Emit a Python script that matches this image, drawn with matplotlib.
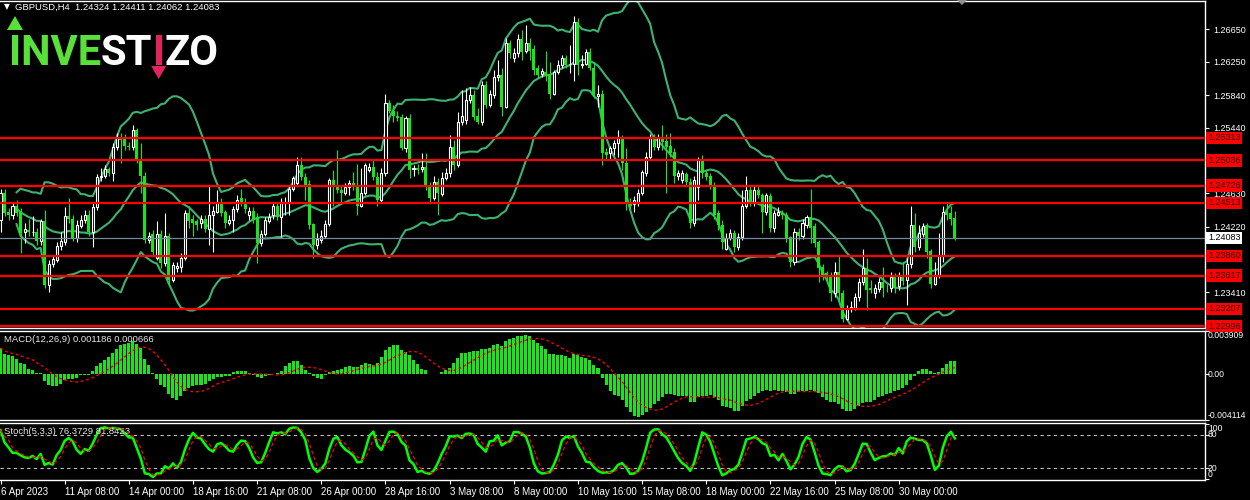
import numpy as np
import pandas as pd
import matplotlib
matplotlib.use("Agg")
import matplotlib.pyplot as plt
from matplotlib.patches import Polygon
from matplotlib.transforms import blended_transform_factory

plt.rcParams['font.family'] = ['Liberation Sans', 'DejaVu Sans']

# GBPUSD H4 candles, prices in units of 0.0001 (bar 0 .. 238)
opens = [
    12430, 12463, 12440, 12436, 12448, 12440, 12415, 12418, 12415, 12416,
    12404, 12429, 12350, 12376, 12381, 12398, 12403, 12435, 12432, 12408,
    12423, 12430, 12437, 12415, 12446, 12483, 12485, 12493, 12488, 12520,
    12532, 12530, 12522, 12520, 12541, 12504, 12485, 12405, 12413, 12384,
    12413, 12377, 12410, 12356, 12371, 12372, 12384, 12439, 12431, 12429,
    12426, 12432, 12419, 12436, 12440, 12452, 12440, 12426, 12430, 12444,
    12457, 12451, 12437, 12441, 12434, 12402, 12413, 12429, 12436, 12448,
    12434, 12451, 12452, 12469, 12476, 12498, 12483, 12474, 12425, 12399,
    12405, 12411, 12425, 12479, 12473, 12467, 12463, 12471, 12476, 12473,
    12448, 12464, 12492, 12496, 12483, 12455, 12488, 12574, 12565, 12559,
    12557, 12519, 12556, 12493, 12494, 12493, 12496, 12472, 12457, 12477,
    12462, 12482, 12488, 12520, 12498, 12551, 12553, 12578, 12584, 12559,
    12551, 12596, 12572, 12584, 12606, 12609, 12569, 12648, 12630, 12636,
    12653, 12639, 12648, 12641, 12617, 12610, 12612, 12610, 12586, 12612,
    12621, 12630, 12622, 12623, 12674, 12621, 12623, 12637, 12618, 12583,
    12586, 12514, 12513, 12519, 12525, 12532, 12500, 12452, 12450, 12451,
    12463, 12488, 12508, 12532, 12520, 12531, 12527, 12522, 12514, 12485,
    12479, 12487, 12477, 12426, 12471, 12505, 12488, 12484, 12473, 12439,
    12424, 12395, 12408, 12414, 12397, 12409, 12447, 12467, 12452, 12467,
    12461, 12440, 12460, 12420, 12437, 12439, 12436, 12409, 12378, 12415,
    12410, 12424, 12434, 12423, 12403, 12372, 12365, 12362, 12340, 12366,
    12340, 12308, 12322, 12322, 12335, 12354, 12371, 12346, 12340, 12345,
    12354, 12347, 12346, 12360, 12349, 12362, 12356, 12376, 12424, 12397,
    12413, 12423, 12392, 12352, 12362, 12387, 12440, 12439, 12432.4]
highs = [
    12469, 12469, 12445, 12452, 12455, 12445, 12427, 12431, 12435, 12420,
    12432, 12442, 12381, 12387, 12403, 12415, 12446, 12457, 12437, 12430,
    12437, 12442, 12442, 12451, 12487, 12494, 12498, 12496, 12525, 12537,
    12538, 12536, 12526, 12547, 12543, 12525, 12489, 12415, 12418, 12429,
    12418, 12439, 12414, 12378, 12378, 12389, 12442, 12448, 12436, 12432,
    12437, 12437, 12472, 12448, 12467, 12457, 12442, 12436, 12447, 12461,
    12469, 12457, 12446, 12446, 12439, 12418, 12434, 12439, 12452, 12452,
    12457, 12458, 12473, 12485, 12508, 12508, 12488, 12479, 12427, 12414,
    12418, 12430, 12482, 12492, 12516, 12473, 12476, 12479, 12489, 12499,
    12494, 12500, 12500, 12504, 12489, 12494, 12585, 12578, 12572, 12565,
    12561, 12559, 12561, 12498, 12499, 12513, 12513, 12477, 12485, 12482,
    12489, 12494, 12535, 12529, 12563, 12590, 12593, 12594, 12590, 12568,
    12602, 12602, 12590, 12615, 12627, 12618, 12654, 12652, 12642, 12659,
    12664, 12670, 12655, 12646, 12621, 12618, 12639, 12625, 12615, 12627,
    12634, 12633, 12646, 12681, 12679, 12633, 12641, 12642, 12625, 12596,
    12590, 12519, 12522, 12529, 12541, 12535, 12519, 12457, 12460, 12469,
    12492, 12514, 12536, 12536, 12536, 12547, 12536, 12537, 12519, 12492,
    12492, 12489, 12482, 12484, 12508, 12510, 12492, 12488, 12477, 12442,
    12430, 12414, 12419, 12418, 12414, 12467, 12484, 12473, 12473, 12473,
    12464, 12464, 12463, 12442, 12446, 12442, 12440, 12411, 12420, 12420,
    12432, 12436, 12469, 12427, 12405, 12376, 12368, 12366, 12378, 12387,
    12344, 12325, 12331, 12340, 12359, 12395, 12383, 12356, 12352, 12359,
    12372, 12352, 12366, 12365, 12366, 12378, 12384, 12447, 12439, 12424,
    12427, 12427, 12395, 12378, 12414, 12448, 12451, 12448, 12441.1]
lows = [
    12415, 12435, 12430, 12432, 12435, 12389, 12402, 12410, 12411, 12400,
    12399, 12347, 12342, 12372, 12378, 12393, 12399, 12427, 12404, 12403,
    12420, 12427, 12411, 12397, 12442, 12478, 12482, 12484, 12478, 12516,
    12501, 12516, 12516, 12516, 12501, 12463, 12402, 12402, 12387, 12381,
    12371, 12373, 12350, 12354, 12366, 12366, 12381, 12420, 12411, 12418,
    12421, 12416, 12399, 12391, 12439, 12435, 12420, 12424, 12415, 12440,
    12447, 12439, 12430, 12427, 12377, 12398, 12411, 12426, 12432, 12430,
    12409, 12436, 12436, 12466, 12472, 12479, 12455, 12419, 12384, 12395,
    12402, 12408, 12423, 12448, 12464, 12452, 12461, 12461, 12467, 12436,
    12446, 12461, 12489, 12479, 12448, 12451, 12485, 12562, 12551, 12552,
    12516, 12514, 12482, 12484, 12487, 12489, 12467, 12453, 12455, 12436,
    12460, 12479, 12483, 12492, 12495, 12547, 12549, 12575, 12553, 12548,
    12547, 12568, 12569, 12581, 12602, 12559, 12568, 12630, 12625, 12631,
    12627, 12636, 12627, 12609, 12605, 12606, 12602, 12579, 12584, 12610,
    12618, 12617, 12611, 12602, 12609, 12617, 12621, 12615, 12580, 12569,
    12498, 12504, 12506, 12510, 12508, 12492, 12442, 12442, 12440, 12447,
    12461, 12485, 12504, 12516, 12516, 12516, 12464, 12508, 12476, 12479,
    12476, 12472, 12420, 12423, 12455, 12482, 12479, 12469, 12432, 12418,
    12395, 12393, 12405, 12391, 12393, 12405, 12445, 12447, 12448, 12457,
    12414, 12436, 12415, 12416, 12435, 12432, 12403, 12372, 12375, 12405,
    12407, 12420, 12402, 12397, 12354, 12356, 12354, 12331, 12335, 12331,
    12304, 12307, 12317, 12319, 12331, 12350, 12319, 12340, 12334, 12341,
    12335, 12341, 12341, 12340, 12344, 12350, 12325, 12371, 12391, 12393,
    12409, 12383, 12347, 12350, 12359, 12378, 12430, 12424, 12406.2]
closes = [
    12463, 12439, 12436, 12447, 12439, 12414, 12419, 12415, 12416, 12404,
    12429, 12350, 12376, 12382, 12398, 12404, 12435, 12432, 12408, 12424,
    12430, 12437, 12415, 12446, 12483, 12485, 12493, 12488, 12520, 12532,
    12529, 12521, 12520, 12541, 12504, 12485, 12405, 12411, 12391, 12413,
    12377, 12410, 12356, 12375, 12373, 12384, 12439, 12429, 12427, 12424,
    12432, 12419, 12436, 12441, 12452, 12439, 12427, 12430, 12444, 12455,
    12452, 12444, 12441, 12431, 12402, 12413, 12430, 12434, 12448, 12434,
    12452, 12453, 12469, 12482, 12498, 12483, 12473, 12424, 12399, 12407,
    12411, 12425, 12479, 12471, 12467, 12463, 12471, 12476, 12471, 12448,
    12464, 12498, 12496, 12483, 12455, 12488, 12574, 12565, 12559, 12556,
    12519, 12556, 12492, 12494, 12492, 12496, 12471, 12457, 12477, 12463,
    12482, 12488, 12520, 12498, 12551, 12559, 12578, 12584, 12557, 12551,
    12596, 12572, 12586, 12607, 12609, 12569, 12648, 12636, 12636, 12653,
    12637, 12648, 12639, 12615, 12609, 12614, 12609, 12586, 12612, 12621,
    12630, 12621, 12623, 12674, 12621, 12623, 12637, 12618, 12584, 12586,
    12513, 12510, 12519, 12525, 12532, 12500, 12451, 12448, 12455, 12463,
    12489, 12508, 12532, 12520, 12531, 12526, 12520, 12513, 12485, 12488,
    12488, 12477, 12426, 12479, 12505, 12488, 12483, 12473, 12436, 12424,
    12403, 12408, 12414, 12397, 12409, 12447, 12467, 12452, 12467, 12461,
    12440, 12461, 12420, 12439, 12440, 12436, 12408, 12378, 12415, 12410,
    12426, 12434, 12421, 12402, 12371, 12362, 12360, 12340, 12366, 12340,
    12308, 12322, 12323, 12335, 12354, 12371, 12344, 12344, 12346, 12354,
    12346, 12346, 12360, 12346, 12361, 12355, 12376, 12424, 12397, 12414,
    12423, 12391, 12352, 12363, 12387, 12440, 12436, 12431, 12408.3]

# MACD(12,26,9) main histogram, units of 0.0001
macd_main = [
    23.4, 18.3, 16.8, 15.9, 13.8, 10.2, 8.7, 4.8, 3.3, 0.9,
    0.9, -6.3, -9.6, -10.8, -10.8, -8.7, -5.7, -4.8, -4.8, -3.6,
    -1.2, -1.2, -0.6, 2.7, 6.9, 10.2, 12.9, 15.3, 18.9, 22.8,
    25.8, 27.3, 27.9, 29.4, 27.3, 23.4, 13.8, 8.4, 0.9, -4.8,
    -10.2, -11.7, -17.7, -21.6, -22.8, -19.8, -14.7, -12.3, -10.8, -10.2,
    -9.6, -8.7, -6.6, -4.8, -2.7, -2.7, -2.1, -2.1, 1.5, 2.4,
    2.4, 2.4, 0.9, -1.2, -2.7, -3.3, -2.1, -0.9, -0.3, 0.6,
    2.4, 6.9, 10.2, 11.4, 11.4, 7.8, 3.9, 0.9, -2.1, -3.6,
    -4.8, -0.6, 1.8, 2.7, 3.3, 4.8, 6.3, 6.9, 6.3, 6.3,
    8.4, 10.2, 9.3, 8.4, 9.9, 15.3, 21.3, 24.3, 25.8, 25.8,
    21.3, 19.8, 17.4, 12.9, 9.3, 4.8, 3.3, 0.3, -0.3, 0.3,
    1.8, 3.3, 5.4, 10.2, 14.4, 18.9, 19.2, 19.8, 20.4, 20.4,
    22.2, 22.2, 23.4, 25.8, 27.3, 24.9, 29.4, 31.2, 32.4, 33.9,
    33.9, 34.8, 33.9, 30.9, 27.9, 24.9, 22.8, 18.3, 17.7, 16.8,
    16.8, 15.9, 14.7, 18.3, 17.4, 15.3, 14.7, 12.9, 8.4, 5.7,
    -3.6, -10.2, -14.7, -18.3, -19.2, -23.1, -29.1, -33.6, -37.2, -38.7,
    -36.6, -34.2, -30.3, -26.7, -24.3, -20.1, -17.7, -17.7, -18.6, -19.2,
    -19.8, -19.8, -24.6, -24.6, -20.7, -19.8, -19.2, -18.3, -20.7, -23.1,
    -28.2, -29.7, -30.6, -32.7, -32.7, -28.2, -23.7, -22.2, -19.2, -17.1,
    -14.7, -14.1, -14.7, -14.1, -14.7, -14.7, -15.6, -17.7, -17.7, -16.2,
    -15.3, -14.7, -14.1, -14.7, -17.1, -20.7, -23.1, -25.2, -25.2, -26.7,
    -31.2, -32.7, -33.3, -31.2, -28.2, -26.1, -25.2, -24.6, -23.1, -20.7,
    -19.2, -17.7, -16.5, -15.3, -14.1, -12.3, -10.2, -5.1, -2.1, 2.4,
    4.8, 4.8, 2.4, 0.9, 1.8, 5.7, 9.3, 11.4, 11.9]

levels = [1.25313, 1.25036, 1.24726, 1.24513, 1.23860, 1.23617, 1.23207, 1.22996]
bid = 1.24083
# price grid; the ones hidden under level boxes get no label
price_ticks = [1.26650, 1.26250, 1.25840, 1.25440, 1.25030, 1.24630,
               1.24220, 1.23820, 1.23410]
hidden_ticks = [1.25030, 1.23820]
date_pos = [0, 16, 32, 48, 64, 80, 96, 112, 128, 144, 160, 176, 192, 208, 224]
date_labels = ['6 Apr 2023', '11 Apr 08:00', '14 Apr 00:00', '18 Apr 16:00',
               '21 Apr 08:00', '26 Apr 00:00', '28 Apr 16:00', '3 May 08:00',
               '8 May 00:00', '10 May 16:00', '15 May 08:00', '18 May 00:00',
               '22 May 16:00', '25 May 08:00', '30 May 00:00']

header = 'GBPUSD,H4  1.24324 1.24411 1.24062 1.24083'
macd_label = 'MACD(12,26,9) 0.001186 0.000666'
stoch_label = 'Stoch(5,3,3) 76.3729 81.8423'

GREEN = '#19e619'
LOGO_GREEN = '#5ae03a'
PINK = '#e0245e'
BAND = '#3cb371'
W, H = 1250, 500

o = np.array(opens) / 1e4
hi = np.array(highs) / 1e4
lo = np.array(lows) / 1e4
c = np.array(closes) / 1e4
x = np.arange(len(c))

# indicators
s = pd.Series(c)
mid = s.rolling(20, min_periods=5).mean()
sd = s.rolling(20, min_periods=5).std(ddof=0)
macd = np.array(macd_main) * 1e-4
signal = pd.Series(macd).rolling(9, min_periods=1).mean()
hh = pd.Series(hi).rolling(5, min_periods=1).max()
ll = pd.Series(lo).rolling(5, min_periods=1).min()
k = 100 * (s - ll).rolling(3, min_periods=1).sum() / (hh - ll).rolling(3, min_periods=1).sum()
d = k.rolling(3, min_periods=1).mean()


def rect(top, bottom):
    return [0, 1 - bottom / H, 1205 / W, (bottom - top) / H]


fig = plt.figure(figsize=(12.5, 5), dpi=100, facecolor='black')
ax = fig.add_axes(rect(0.5, 327.5))
am = fig.add_axes(rect(330.5, 420), sharex=ax)
ast = fig.add_axes(rect(422.5, 480), sharex=ax)

for a in (ax, am, ast):
    a.set_facecolor('black')
    a.spines['left'].set_visible(False)
    for side in ('top', 'bottom', 'right'):
        a.spines[side].set_color('white')
        a.spines[side].set_linewidth(1)
    a.yaxis.tick_right()
    a.tick_params(axis='y', colors='white', labelsize=6.5, length=3, pad=3, width=0.8)
    a.tick_params(axis='x', colors='white', labelsize=7, length=3, pad=2, width=0.8)
ax.tick_params(axis='x', bottom=False, labelbottom=False)
am.tick_params(axis='x', bottom=False, labelbottom=False)
ax.set_xlim(-0.125, 300.37)

# ---- main price panel
ax.set_ylim(1.22978, 1.27007)
ax.set_yticks(price_ticks)
ax.set_yticklabels(['' if p in hidden_ticks else f'{p:.5f}' for p in price_ticks])

ax.plot(x, mid, color=BAND, lw=1.5, zorder=1.5)
ax.plot(x, mid + 2 * sd, color=BAND, lw=1.5, zorder=1.5)
ax.plot(x, mid - 2 * sd, color=BAND, lw=1.5, zorder=1.5)

up = c >= o
ax.vlines(x[up], lo[up], hi[up], color='white', lw=0.8, zorder=2)
ax.vlines(x[~up], lo[~up], hi[~up], color=GREEN, lw=0.8, zorder=2)
body = np.maximum(np.abs(c - o), 0.00002)
ax.bar(x[up], body[up], bottom=o[up], width=0.52, facecolor='black',
       edgecolor='white', lw=0.8, zorder=3)
ax.bar(x[~up], body[~up], bottom=c[~up], width=0.75, color=GREEN, lw=0, zorder=3)

lab_tr = blended_transform_factory(ax.transAxes, ax.transData)
ax.axhline(bid, color='#778899', lw=0.9, zorder=4)
ax.text(1.0025, bid, f'{bid:.5f}', transform=lab_tr, ha='left', va='center',
        fontsize=6.5, color='black', clip_on=False, zorder=7,
        bbox=dict(boxstyle='square,pad=0.2', fc='white', ec='none'))
for lv in levels:
    ax.axhline(lv, color='red', lw=1.6, zorder=5)
    ax.text(1.0025, lv, f'{lv:.5f}', transform=lab_tr, ha='left', va='center',
            fontsize=6.5, color='#2a0000', clip_on=False, zorder=7,
            bbox=dict(boxstyle='square,pad=0.2', fc='#ff0000', ec='none'))

# ---- MACD panel
am.set_ylim(-0.004114, 0.003909)
am.bar(x, macd, width=0.75, color=GREEN, lw=0, zorder=2)
am.plot(x, signal, color='red', lw=1, ls=(0, (2, 2)), zorder=3)
am.set_yticks([0.003909, 0.0, -0.004114])
am.set_yticklabels(['', '', ''])
rt = blended_transform_factory(am.transAxes, am.transData)
for val, txt, va in ((0.003909, '0.003909', 'top'), (0.0, '0.00', 'center'),
                     (-0.004114, '-0.004114', 'bottom')):
    am.text(1.0025, val, txt, transform=rt, va=va, ha='left',
            fontsize=6.2, color='white', clip_on=False)
am.text(0.003, 0.9, macd_label, transform=am.transAxes, fontsize=6.8,
        color='#e6e6e6', va='center', ha='left')

# ---- Stochastic panel
ast.set_ylim(-1.8, 102.7)
ast.axhline(80, color='#c0c0c0', lw=0.8, ls=(0, (3, 3)), zorder=1)
ast.axhline(20, color='#c0c0c0', lw=0.8, ls=(0, (3, 3)), zorder=1)
ast.plot(x, k, color='#00ff00', lw=1.8, zorder=3)
ast.plot(x, d, color='red', lw=0.9, ls=(0, (3, 2)), zorder=4)
ast.set_yticks([100, 80, 20, 0])
ast.set_yticklabels(['', '', '', ''])
st = blended_transform_factory(ast.transAxes, ast.transData)
for val, va in ((100, 'top'), (80, 'center'), (20, 'center'), (0, 'bottom')):
    ast.text(1.0025, val, str(val), transform=st, va=va, ha='left',
             fontsize=6.2, color='white', clip_on=False)
ast.text(0.003, 0.84, stoch_label, transform=ast.transAxes, fontsize=6.8,
         color='#e6e6e6', va='center', ha='left')
ast.set_xticks(date_pos)
ast.set_xticklabels(date_labels, ha='left')

# ---- header and logo
fig.text(4 / W, 1 - 7 / H, '\u25bc', fontsize=5.5, color='white', va='center',
         family=['DejaVu Sans'])
fig.text(15 / W, 1 - 7 / H, header, fontsize=6.8, color='white', va='center')

renderer = fig.canvas.get_renderer()
logo = [('INVE', LOGO_GREEN), ('ST', 'white'), ('I', PINK), ('ZO', 'white')]
xpos = 9
pink_x = None
for txt, col in logo:
    t = fig.text(xpos / W, 1 - 65 / H, txt, fontsize=30, color=col, ha='left',
                 va='baseline', family='Roboto', fontweight='bold')
    bb = t.get_window_extent(renderer)
    if col == PINK:
        pink_x = xpos + bb.width / 2
    xpos += bb.width
fig.patches.append(Polygon([(7 / W, 1 - 30 / H), (23 / W, 1 - 30 / H), (15 / W, 1 - 16 / H)],
                           closed=True, fc=LOGO_GREEN, ec='none', transform=fig.transFigure))
fig.patches.append(Polygon([((pink_x - 7.5) / W, 1 - 66 / H), ((pink_x + 7.5) / W, 1 - 66 / H),
                            (pink_x / W, 1 - 79 / H)],
                           closed=True, fc=PINK, ec='none', transform=fig.transFigure))
fig.patches.append(Polygon([(957 / W, 1.0), (967 / W, 1.0), (962 / W, 1 - 5 / H)],
                           closed=True, fc='#909090', ec='none', transform=fig.transFigure))

fig.savefig('out.png', dpi=100, facecolor='black')
